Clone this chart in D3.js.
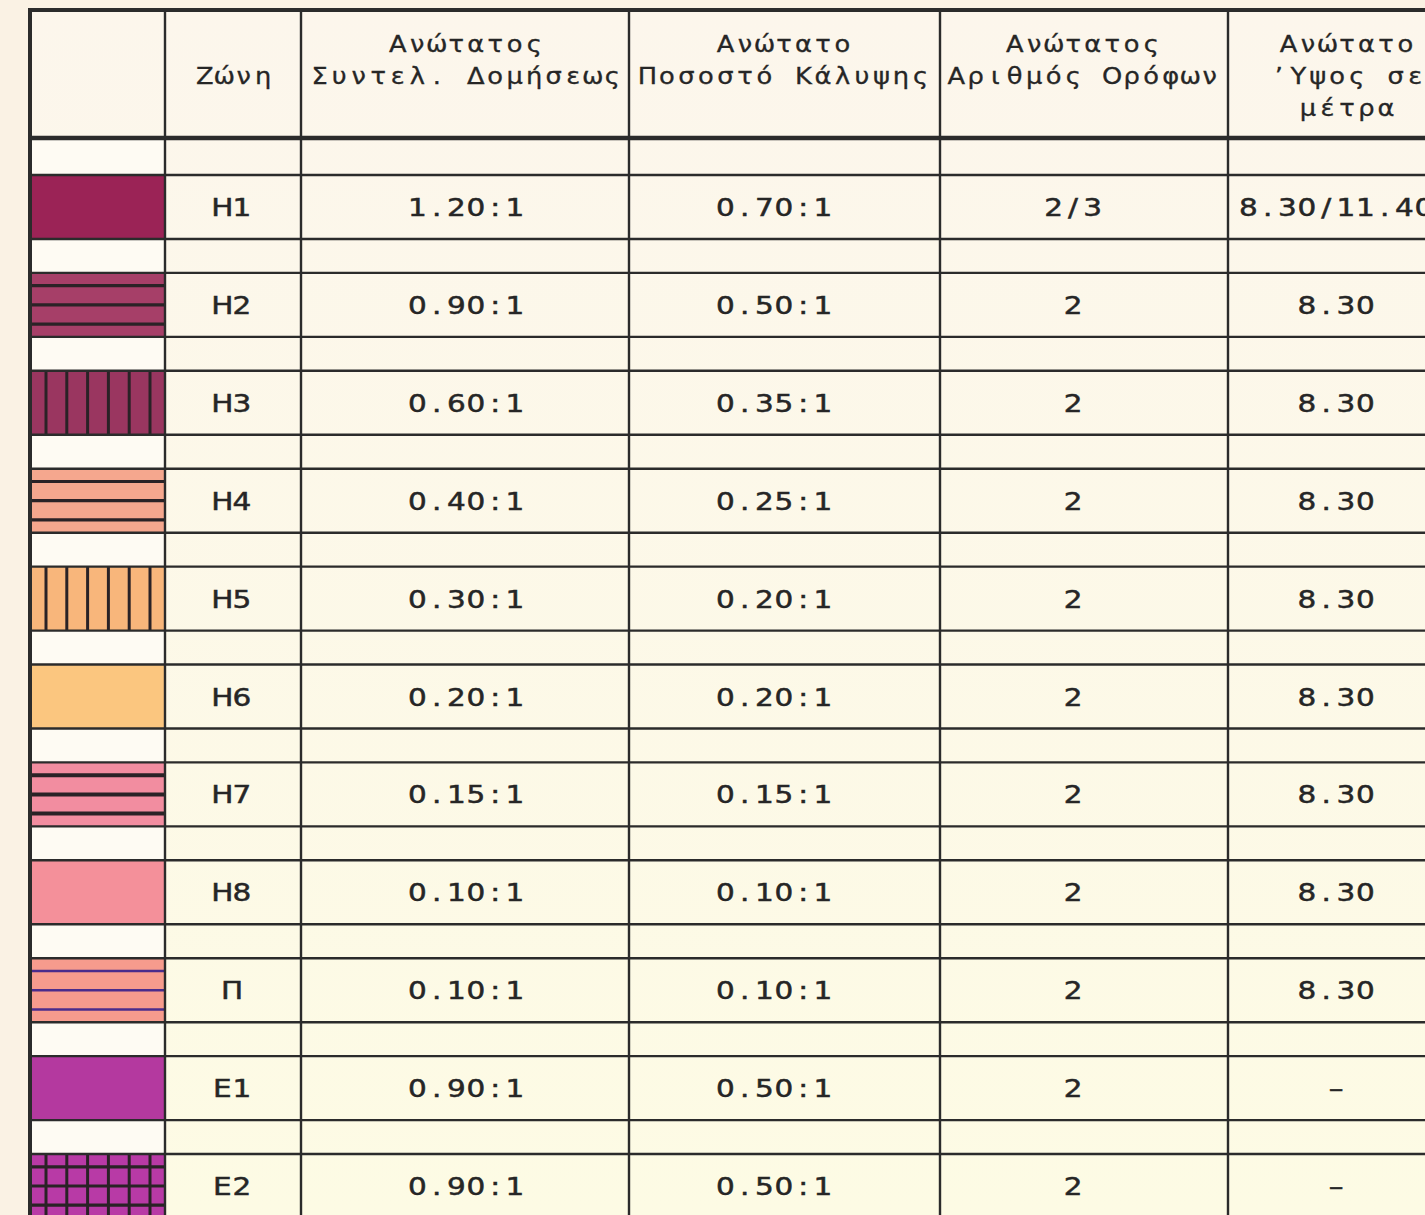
<!DOCTYPE html>
<html>
<head>
<meta charset="utf-8">
<script src="https://cdn.jsdelivr.net/npm/d3@7"></script>
<style>
  html, body { margin: 0; background: #faf2e4; }
  svg { display: block; }
</style>
</head>
<body>
<div id="chart"></div>
<script>
// table data
const zones = ["Η1", "Η2", "Η3", "Η4", "Η5", "Η6", "Η7", "Η8", "Π", "Ε1", "Ε2"];
const farValues = ["1.20:1", "0.90:1", "0.60:1", "0.40:1", "0.30:1", "0.20:1", "0.15:1", "0.10:1", "0.10:1", "0.90:1", "0.90:1"];
const coverageValues = ["0.70:1", "0.50:1", "0.35:1", "0.25:1", "0.20:1", "0.20:1", "0.15:1", "0.10:1", "0.10:1", "0.50:1", "0.50:1"];
const floorValues = ["2/3", "2", "2", "2", "2", "2", "2", "2", "2", "2", "2"];
const heightValues = ["8.30/11.40", "8.30", "8.30", "8.30", "8.30", "8.30", "8.30", "8.30", "8.30", "–", "–"];
const headers = [
  [],
  ["Ζώνη"],
  ["Ανώτατος", "Συντελ. Δομήσεως"],
  ["Ανώτατο", "Ποσοστό Κάλυψης"],
  ["Ανώτατος", "Αριθμός Ορόφων"],
  ["Ανώτατο", "’Υψος σε", "μέτρα"]
];

// swatch look per zone (fill + hatching)
const swatchStyles = [
  { fill: "#9b2356" },
  { fill: "#a63f68", h: true },
  { fill: "#9a3660", v: true },
  { fill: "#f5a78e", h: true },
  { fill: "#f8b67b", v: true },
  { fill: "#fbc67f" },
  { fill: "#f28da0", h: true, lw: 4 },
  { fill: "#f4909a" },
  { fill: "#f69b8d", h: true, line: "#4a2c8c" },
  { fill: "#b4399f" },
  { fill: "#b83aa6", h: true, v: true }
];

const width = 1425, height = 1215;
const colEdges = [30, 165, 301, 629, 940, 1228, 1460];
const textCenters = [98, 232, 466, 774, 1073, 1336];
const headCenters = [98, 234, 466, 784, 1083, 1347];
const tableTop = 10, headBottom = 138, rowH = 64;
const charStep = 19.5;
const ink = "#2b2b2b";

const y = d3.scaleLinear().domain([0, zones.length - 1]).range([175, 1154]);

const svg = d3.select("#chart").append("svg")
  .attr("width", width).attr("height", height);

const defs = svg.append("defs");
const grad = defs.append("linearGradient").attr("id", "paper")
  .attr("x1", 0).attr("y1", 0).attr("x2", 0).attr("y2", 1);
grad.append("stop").attr("offset", "0%").attr("stop-color", "#fcf6ec");
grad.append("stop").attr("offset", "100%").attr("stop-color", "#fdfbe4");

svg.append("rect")
  .attr("x", colEdges[0]).attr("y", tableTop)
  .attr("width", width - colEdges[0]).attr("height", height - tableTop)
  .attr("fill", "url(#paper)");

// spacer cells in the swatch column are a little whiter
svg.append("rect")
  .attr("x", colEdges[0]).attr("y", headBottom)
  .attr("width", colEdges[1] - colEdges[0]).attr("height", height - headBottom)
  .attr("fill", "#fefbf3");

// swatches
const sw = svg.append("g");
zones.forEach((z, i) => {
  const s = swatchStyles[i];
  const x0 = colEdges[0], w = colEdges[1] - colEdges[0], y0 = y(i);
  const g = sw.append("g");
  g.append("rect").attr("x", x0).attr("y", y0).attr("width", w).attr("height", rowH).attr("fill", s.fill);
  const lc = s.line || "#2a2226";
  if (s.h) {
    [0.2, 0.5, 0.8].forEach(f => {
      g.append("line").attr("x1", x0).attr("x2", x0 + w)
        .attr("y1", y0 + f * rowH).attr("y2", y0 + f * rowH)
        .attr("stroke", lc).attr("stroke-width", s.lw || (s.line ? 2.5 : 3.2));
    });
  }
  if (s.v) {
    d3.range(6).forEach(k => {
      const xx = x0 + 16 + k * 20.8;
      g.append("line").attr("x1", xx).attr("x2", xx)
        .attr("y1", y0).attr("y2", y0 + rowH)
        .attr("stroke", lc).attr("stroke-width", 3);
    });
  }
});

// grid lines
const grid = svg.append("g").attr("stroke", ink).attr("fill", "none");
zones.forEach((z, i) => {
  [y(i), y(i) + rowH].forEach(yy => {
    grid.append("line").attr("x1", colEdges[0]).attr("x2", width)
      .attr("y1", yy).attr("y2", yy).attr("stroke-width", 2.4);
  });
});
colEdges.slice(1, -1).forEach(xx => {
  grid.append("line").attr("x1", xx).attr("x2", xx)
    .attr("y1", tableTop).attr("y2", height).attr("stroke-width", 2.4);
});
grid.append("line").attr("x1", colEdges[0]).attr("x2", colEdges[0])
  .attr("y1", tableTop - 2).attr("y2", height).attr("stroke-width", 4);
grid.append("line").attr("x1", colEdges[0] - 2).attr("x2", width)
  .attr("y1", tableTop).attr("y2", tableTop).attr("stroke-width", 4);
grid.append("line").attr("x1", colEdges[0]).attr("x2", width)
  .attr("y1", headBottom).attr("y2", headBottom).attr("stroke-width", 4.5);

// plotter-like text: every glyph sits in a fixed-width cell, a bit widened
function monoText(g, str, cx, base, opts) {
  const chars = Array.from(str);
  const n = chars.length;
  const t = g.append("g")
    .attr("font-family", "'DejaVu Sans', sans-serif")
    .attr("font-size", opts.size)
    .attr("fill", "#262626")
    .attr("stroke", "#262626")
    .attr("stroke-width", opts.stroke)
    .attr("text-anchor", "middle");
  chars.forEach((c, k) => {
    if (c === " ") return;
    const xx = cx + (k - (n - 1) / 2) * charStep;
    t.append("text")
      .attr("transform", `translate(${xx},${base}) scale(${opts.sx},1)`)
      .text(c);
  });
}

const head = svg.append("g");
headers.forEach((lines, c) => {
  const base = lines.length === 1 ? [84] : [52, 84, 116];
  lines.forEach((ln, k) => monoText(head, ln, headCenters[c], base[k], { size: 23, stroke: 0.3, sx: 1.12 }));
});

const body = svg.append("g");
const columns = [zones, farValues, coverageValues, floorValues, heightValues];
zones.forEach((z, i) => {
  const base = y(i) + 41;
  columns.forEach((col, c) => {
    monoText(body, col[i], textCenters[c + 1], base, { size: 25, stroke: 0.5, sx: 1.18 });
  });
});
</script>
</body>
</html>
